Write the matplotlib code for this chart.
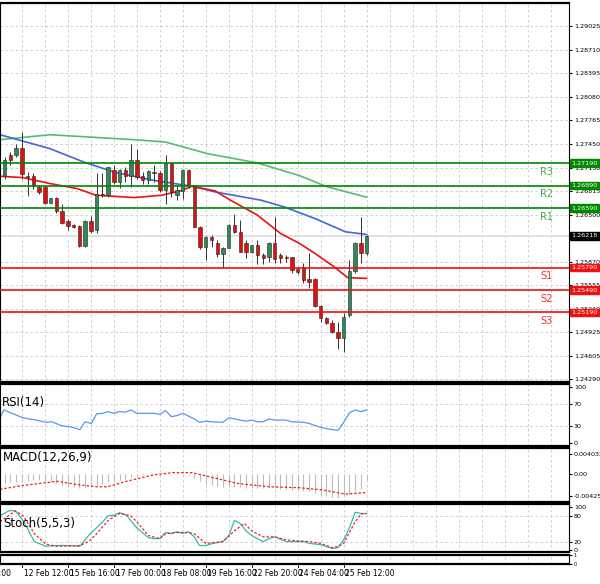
import matplotlib
matplotlib.use("Agg")
import matplotlib.pyplot as plt
import numpy as np

opens  = [1.27016,1.27297,1.27297,1.27395,1.27025,1.27016,1.26873,1.26873,1.26659,1.26730,1.26547,1.26418,1.26356,1.26347,1.26084,1.26414,1.26293,1.26775,1.26761,1.27096,1.26940,1.27105,1.27016,1.27239,1.27016,1.26962,1.27074,1.27060,1.26837,1.27194,1.26761,1.26820,1.27105,1.26895,1.26338,1.26070,1.26204,1.26124,1.25972,1.26048,1.26360,1.26262,1.26115,1.25994,1.26092,1.25954,1.25927,1.26124,1.25954,1.25927,1.25936,1.25767,1.25803,1.25638,1.25638,1.25276,1.25111,1.25053,1.24933,1.24844,1.25156,1.25749,1.26115,1.25981]
closes = [1.27230,1.27230,1.27395,1.27042,1.27007,1.26882,1.26806,1.26659,1.26730,1.26547,1.26391,1.26347,1.26338,1.26084,1.26414,1.26284,1.26775,1.26761,1.27141,1.26940,1.27105,1.27016,1.27239,1.27007,1.26962,1.27087,1.27060,1.26837,1.27194,1.26806,1.26837,1.27105,1.26895,1.26338,1.26061,1.26204,1.26160,1.25972,1.26048,1.26360,1.26262,1.26003,1.26003,1.26092,1.25959,1.25923,1.26124,1.25905,1.25914,1.25918,1.25758,1.25736,1.25624,1.25602,1.25276,1.25111,1.25053,1.24933,1.24844,1.25134,1.25749,1.26115,1.25990,1.26218]
highs  = [1.27274,1.27341,1.27453,1.27609,1.27074,1.27060,1.26895,1.26882,1.26730,1.26739,1.26650,1.26436,1.26382,1.26360,1.26427,1.26481,1.27060,1.27060,1.27141,1.27163,1.27118,1.27141,1.27453,1.27386,1.27074,1.27105,1.27163,1.27087,1.27297,1.27203,1.26895,1.27118,1.27118,1.26895,1.26347,1.26213,1.26226,1.26160,1.26061,1.26382,1.26516,1.26427,1.26160,1.26092,1.26160,1.25981,1.26137,1.26463,1.25981,1.25959,1.25936,1.25803,1.25847,1.25981,1.25646,1.25290,1.25134,1.25089,1.25067,1.25178,1.25892,1.26137,1.26463,1.26226]
lows   = [1.26985,1.27163,1.27274,1.26985,1.26748,1.26851,1.26784,1.26641,1.26659,1.26525,1.26374,1.26293,1.26316,1.26070,1.26070,1.26249,1.26249,1.26739,1.26739,1.26918,1.26864,1.26940,1.26873,1.26985,1.26918,1.26918,1.26940,1.26806,1.26650,1.26739,1.26695,1.26717,1.26864,1.26329,1.26035,1.25892,1.26070,1.25936,1.25803,1.26070,1.26249,1.26003,1.25914,1.25981,1.25838,1.25838,1.25870,1.25847,1.25847,1.25870,1.25713,1.25704,1.25580,1.25513,1.25258,1.25067,1.25035,1.24920,1.24697,1.24665,1.25134,1.25713,1.25847,1.25959]

ma_green_x = [-0.8, 7.9, 22.6, 28, 35.3, 44, 51.3, 56, 63]
ma_green_y = [1.27506, 1.27573, 1.27506, 1.27475, 1.27319, 1.27194, 1.27025, 1.26877, 1.26735]
ma_blue_x = [-0.8, 7.9, 13.9, 19.2, 25.9, 32.6, 36.6, 44.6, 48.6, 54, 59.3, 63]
ma_blue_y = [1.27573, 1.27386, 1.27203, 1.27069, 1.26962, 1.26882, 1.26806, 1.26695, 1.26606, 1.26449, 1.26271, 1.26235]
ma_red_x = [-0.8, 3.2, 7.9, 12.6, 15.9, 17.9, 22.6, 27.3, 30.6, 32.6, 36.6, 39.3, 44, 48, 51.3, 54, 57.3, 59.7, 63]
ma_red_y = [1.27016, 1.26998, 1.26918, 1.26851, 1.26761, 1.26752, 1.26730, 1.26761, 1.26820, 1.26882, 1.26820, 1.26695, 1.26494, 1.26249, 1.26115, 1.25981, 1.25803, 1.25655, 1.25646]

levels = [1.27190, 1.26890, 1.26590, 1.25790, 1.25490, 1.25190]
level_names = ["R3", "R2", "R1", "S1", "S2", "S3"]
last_price = 1.26218

price_ticks = [1.29025,1.28710,1.28395,1.28080,1.27765,1.27450,1.27130,1.26815,1.26500,1.25870,1.25555,1.25240,1.24925,1.24605,1.24290]

rsi_x = [-0.8,-0.13,3.2,5.5,7.2,8.2,9.9,11.9,13.1,14,15.1,16,17.1,18,19,20,21,22,23,25,26,27,28,29,30,31,33,33.9,35,36,38,39,40,42,43,44,45,46,47,49,50,52,53,55,57,58,59,60,61,62,63]
rsi_v = [45,59,45,41,37,38,31,28,24,38,35,52,53,56,53,56,55,59,53,53,53,51,58,47,49,53,43,37,39,38,37,45,43,39,41,38,38,43,41,41,38,37,35,28,24,23,37,54,59,56,59]

macd_hist = [-0.0017,-0.0016,-0.0015,-0.0014,-0.0013,-0.0012,-0.0012,-0.0013,-0.0015,-0.0018,-0.0021,-0.0024,-0.0026,-0.0027,-0.0027,-0.0025,-0.0022,-0.0019,-0.0016,-0.0013,-0.0011,-0.0009,-0.0006,-0.0003,-0.0001,0.0,0.0,-0.0001,0.0,-0.0001,-0.0001,-0.0002,-0.0002,-0.0008,-0.0014,-0.0019,-0.0022,-0.0024,-0.0025,-0.0024,-0.0025,-0.0026,-0.0027,-0.0027,-0.0028,-0.0028,-0.0027,-0.0028,-0.0029,-0.0030,-0.0031,-0.0032,-0.0033,-0.0034,-0.0037,-0.0041,-0.0044,-0.0046,-0.0047,-0.0044,-0.0040,-0.0033,-0.0030,-0.0011]
macd_sig_x = [-0.8,3.2,9.2,12.6,15.9,17.9,21.2,25.9,29.3,32.6,36.6,40.6,46,51.3,55.3,59.3,63]
macd_sig_v = [-0.00298,-0.00222,-0.0014,-0.00203,-0.00248,-0.00248,-0.0014,-0.00013,0.00032,0.00032,-0.00076,-0.00184,-0.00248,-0.00267,-0.00311,-0.00394,-0.00362]

st_x = [-0.8,0.87,1.87,3.2,5.2,7.2,9.2,11.2,13.1,14.6,16,17.1,18,19,20,21.2,23,25,26,27,28,29,30,31,32,33,33.9,35,36,38,39,40,41,42,43,45,46,47,49,50,52,53,55,57,58,59,60,61,62,63]
st_k = [80,92,91,69,20,9,11,11,9,34,52,66,80,81,87,81,52,29,27,27,41,39,43,39,43,31,11,11,15,20,34,69,62,45,34,20,27,31,20,20,20,16,13,4,6,24,52,88,85,85]
st_dx = [-0.8,1.87,3.2,5.2,7.2,9.2,13.1,14.6,16,18,20,21.9,23,25,27,28,30,32,33,35,38,40,41.7,43,45,47,49,53,55,57,58,59,60,61,62,63]
st_d = [66,91,80,38,14,9,11,20,38,69,85,80,66,34,27,38,41,41,38,16,20,45,62,45,31,31,24,20,16,6,9,16,41,66,84,85]

date_labels = ["12 Feb 12:00","15 Feb 16:00","17 Feb 00:00","18 Feb 08:00","19 Feb 16:00","22 Feb 20:00","24 Feb 04:00","25 Feb 12:00"]
date_idx = [3,11,19,27,35,43,51,59]

W, H = 600, 584
fig = plt.figure(figsize=(6, 5.84), dpi=100)
def ax_at(top, bottom):
    return fig.add_axes([0, 1-bottom/H, 569/W, (bottom-top)/H])
XL = (-0.8, 98.2)
grid_kw = dict(color="#c8c8c8", ls=(0, (3, 3)), lw=0.6)
vgrid = np.arange(-1, 98, 4)

def style(ax):
    ax.set_xlim(*XL)
    ax.yaxis.tick_right()
    ax.tick_params(axis="y", labelsize=4.6, length=2, pad=1.5)
    ax.set_xticks([])
    for x in vgrid:
        ax.axvline(x, **grid_kw, zorder=0)
    for s in ax.spines.values():
        s.set_linewidth(0.8)
    ax.spines["top"].set_linewidth(1.6)
    ax.spines["bottom"].set_linewidth(1.6)

# main
ax = ax_at(3, 382)
style(ax)
ax.set_ylim(1.24256, 1.29340)
ax.set_yticks(price_ticks)
ax.set_yticklabels([f"{t:.5f}" for t in price_ticks])
for t in price_ticks:
    ax.axhline(t, **grid_kw, zorder=0)
ax.axhline(last_price, color="#dddddd", lw=1.2, zorder=1)
for i, (o, c, h, l) in enumerate(zip(opens, closes, highs, lows)):
    ax.vlines(i, l, h, color="#333333", lw=0.7, zorder=3)
    up = c >= o
    ax.bar(i, abs(c-o) or 0.00003, bottom=min(o, c), width=0.6,
           color="#2e8b57" if up else "#e01010", edgecolor="#222222", lw=0.4, zorder=4)
ax.plot(ma_green_x, ma_green_y, color="#55bb77", lw=1.2, zorder=2)
ax.plot(ma_blue_x, ma_blue_y, color="#4466dd", lw=1.2, zorder=2)
ax.plot(ma_red_x, ma_red_y, color="#ee1111", lw=1.2, zorder=2)
for lv, nm in zip(levels, level_names):
    col = "#008800" if nm.startswith("R") else "#ee1111"
    ax.axhline(lv, color=col, lw=1.2, zorder=5)
    ax.text(94.3, lv-0.0005, nm, color="#44aa44" if nm.startswith("R") else "#ee3333",
            fontsize=7, va="top", ha="center")
    ax.annotate(f"{lv:.5f}", xy=(1.004, lv), xycoords=("axes fraction", "data"),
                fontsize=4.6, color="white", va="center", ha="left", annotation_clip=False,
                bbox=dict(boxstyle="square,pad=0.2", fc=col, ec=col), zorder=10)
ax.annotate(f"{last_price:.5f}", xy=(1.004, last_price), xycoords=("axes fraction", "data"),
            fontsize=4.6, color="white", va="center", ha="left", annotation_clip=False,
            bbox=dict(boxstyle="square,pad=0.2", fc="black", ec="black"), zorder=10)

# RSI
ax2 = ax_at(384, 446)
style(ax2)
ax2.set_ylim(-5, 105)
ax2.set_yticks([0, 30, 70, 100])
for t in [30, 70]:
    ax2.axhline(t, **grid_kw, zorder=0)
ax2.plot(rsi_x, rsi_v, color="#5599ee", lw=0.9)
ax2.text(0.003, 0.7, "RSI(14)", transform=ax2.transAxes, fontsize=8.5, va="center")

# MACD
ax3 = ax_at(448, 502)
style(ax3)
ax3.set_ylim(-0.0055, 0.0052)
ax3.set_yticks([0.004032, 0.0, -0.004258])
ax3.set_yticklabels(["0.004032", "0.00", "-0.004258"])
ax3.vlines(np.arange(len(macd_hist)), 0, macd_hist, color="#bbbbbb", lw=0.8)
ax3.plot(macd_sig_x, macd_sig_v, color="#ee2222", lw=0.9, ls=(0, (2, 1.5)))
ax3.text(0.005, 0.82, "MACD(12,26,9)", transform=ax3.transAxes, fontsize=8.5, va="center")

# Stoch
ax4 = ax_at(504, 552)
style(ax4)
ax4.set_ylim(-4, 107)
ax4.set_yticks([0, 20, 80, 100])
for t in [20, 80]:
    ax4.axhline(t, **grid_kw, zorder=0)
ax4.plot(st_x, st_k, color="#33bbaa", lw=0.9)
ax4.plot(st_dx, st_d, color="#ee2222", lw=0.9, ls=(0, (2, 1.5)))
ax4.text(0.005, 0.6, "Stoch(5,5,3)", transform=ax4.transAxes, fontsize=8.5, va="center")

# empty bottom panel with dates
ax5 = ax_at(555, 564)
style(ax5)
ax5.set_ylim(0, 1)
ax5.set_yticks([0, 1])
ax5.tick_params(axis="y", labelsize=3.5, pad=1)
for i, lab in zip(date_idx, date_labels):
    ax5.text(i + 0.3, -0.6, lab, fontsize=5.5, ha="left", va="top")
    ax5.plot([i, i], [0, -0.3], color="black", lw=0.6, clip_on=False)
ax5.text(-0.8, -0.6, "04:00", fontsize=5.5, ha="center", va="top")

fig.savefig("out.png", dpi=100)
